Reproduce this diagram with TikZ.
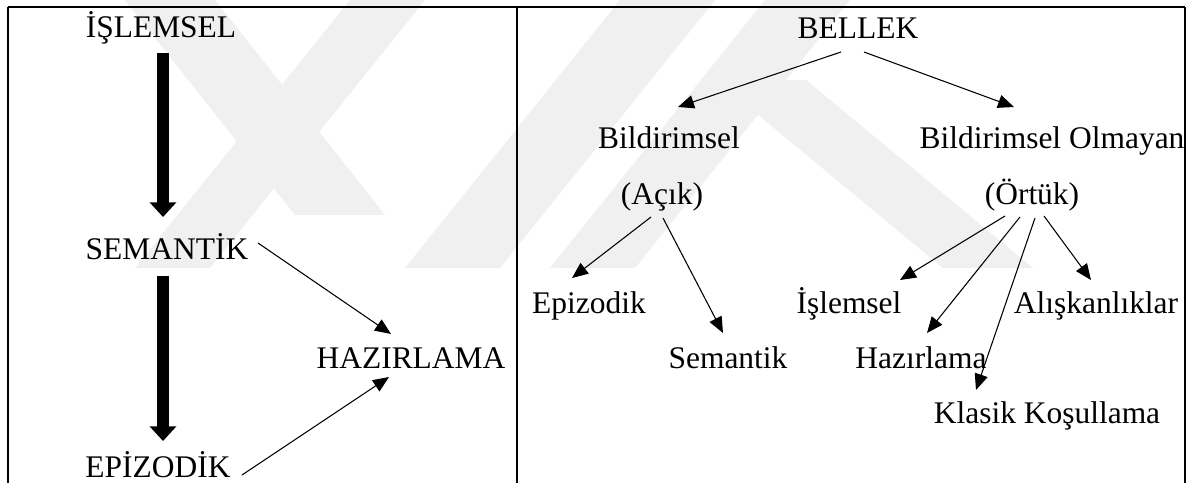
\documentclass[tikz,border=0pt]{standalone}
\usepackage{fontspec}
\setmainfont{Liberation Serif}
\usetikzlibrary{arrows.meta}
\begin{document}
\begin{tikzpicture}[x=0.75pt,y=-0.75pt,
  lbl/.style={anchor=base,inner sep=0pt,font=\fontsize{23.6}{28}\selectfont},
  thinarr/.style={line width=0.8pt,-{Triangle[length=12pt,width=10pt]}},
  thickarr/.style={line width=9pt,-{Triangle[length=11pt,width=19.5pt]}},
  frameline/.style={line width=1.5pt},
  wm/.style={fill=black!6,draw=none}]
\fill[white] (0,0) rectangle (1193,483);
\useasboundingbox (0,0) rectangle (1193,483);
% watermark (approximate)
\begin{scope}
\clip (0,0) rectangle (1193,483);
\fill[wm] (125,0) -- (215,0) -- (385,215) -- (295,215) -- cycle;
\fill[wm] (135,268) -- (210,268) -- (425,0) -- (350,0) -- cycle;
\fill[wm] (405,268) -- (500,268) -- (715,0) -- (620,0) -- cycle;
\fill[wm] (550,268) -- (635,268) -- (850,0) -- (765,0) -- cycle;
\fill[wm] (716,80) -- (806,80) -- (1033,268) -- (943,268) -- cycle;
\end{scope}
% frame
\draw[frameline] (8,7) -- (1185,7);
\draw[frameline] (8,7) -- (8,483);
\draw[frameline] (517,7) -- (517,483);
\draw[frameline] (1185,7) -- (1185,483);
% left panel
\node[lbl] (islemsel) at (161,37) {İŞLEMSEL};
\node[lbl] (semantikL) at (167,259) {SEMANTİK};
\node[lbl] (epizodikL) at (158,477) {EPİZODİK};
\node[lbl] (hazirlamaL) at (411,368) {HAZIRLAMA};
\draw[thickarr] ([shift={(2,16)}]islemsel.base) -- ([shift={(-4,-42)}]semantikL.base);
\draw[thickarr] ([shift={(-4,17)}]semantikL.base) -- ([shift={(5,-36)}]epizodikL.base);
\draw[thinarr] ([shift={(91,-16)}]semantikL.base) -- ([shift={(-20,-34)}]hazirlamaL.base);
\draw[thinarr] ([shift={(84,-2)}]epizodikL.base) -- ([shift={(-22,9)}]hazirlamaL.base);
% right panel
\node[lbl] (bellek) at (858,38) {BELLEK};
\node[lbl] (bild) at (669,148) {Bildirimsel};
\node[lbl] (bildo) at (1052,148) {Bildirimsel Olmayan};
\node[lbl] (acik) at (662,204) {(Açık)};
\node[lbl] (ortuk) at (1032,204) {(Örtük)};
\node[lbl] (epiz) at (589,313) {Epizodik};
\node[lbl] (sem) at (728,368) {Semantik};
\node[lbl] (isl) at (849,313) {İşlemsel};
\node[lbl] (haz) at (921,368) {Hazırlama};
\node[lbl] (klasik) at (1047,423) {Klasik Koşullama};
\node[lbl] (alis) at (1096,313) {Alışkanlıklar};
\draw[thinarr] ([shift={(-17,14)}]bellek.base) -- ([shift={(9,-41)}]bild.base);
\draw[thinarr] ([shift={(6,14)}]bellek.base) -- ([shift={(-38,-41)}]bildo.base);
\draw[thinarr] ([shift={(-11,13)}]acik.base) -- ([shift={(-17,-35)}]epiz.base);
\draw[thinarr] ([shift={(1,14)}]acik.base) -- ([shift={(-5,-35)}]sem.base);
\draw[thinarr] ([shift={(-27,12)}]ortuk.base) -- ([shift={(51,-33)}]isl.base);
\draw[thinarr] ([shift={(-12,13)}]ortuk.base) -- ([shift={(6,-35)}]haz.base);
\draw[thinarr] ([shift={(3,14)}]ortuk.base) -- ([shift={(-71,-33)}]klasik.base);
\draw[thinarr] ([shift={(12,12)}]ortuk.base) -- ([shift={(-5,-33)}]alis.base);
\end{tikzpicture}
\end{document}
